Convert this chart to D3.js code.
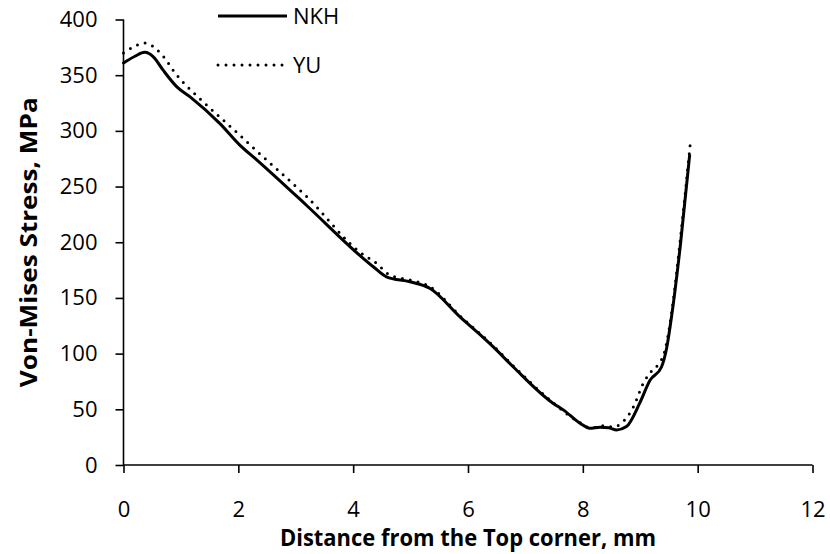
<!DOCTYPE html>
<html>
	<head>
		<style>
			body {
				margin: 0;
				background: #fff;
			}

			#chart {
				display: block;
			}

			text {
				font-family: 'Open Sans', sans-serif;
				fill: #000;
			}
		</style>
	</head>
	<body>
		<svg id="chart" width="830" height="554"></svg>
		<script src="https://cdnjs.cloudflare.com/ajax/libs/d3/7.8.5/d3.min.js"></script>

		<script>
			// NKH series (solid)
			let nkhX = [0, 0.2, 0.37, 0.52, 0.69, 0.93, 1.16, 1.68, 2.03, 2.32, 3.19, 4.12, 4.35, 4.58, 4.99, 5.34, 5.86, 6.21, 6.44, 6.79, 7.48, 7.66, 7.95, 8.12, 8.3, 8.45, 8.59, 8.76, 8.99, 9.17, 9.37, 9.46, 9.55, 9.7, 9.86];
			let nkhY = [361, 367, 370.5, 366.5, 354.5, 339.5, 330.5, 306.5, 287, 274, 233, 188, 178, 169, 164.5, 158.5, 133, 117, 106, 88, 55.5, 49.5, 37.5, 33, 34, 33.5, 31.5, 34.5, 55.5, 76, 88, 105, 135, 198, 278];

			// YU series (dotted)
			let yuX = [0, 0.2, 0.37, 0.64, 0.93, 1.39, 2.03, 2.32, 3.19, 4.12, 4.41, 4.64, 5.0, 5.34, 5.86, 6.44, 6.79, 7.48, 7.95, 8.12, 8.25, 8.38, 8.53, 8.67, 8.88, 9.05, 9.2, 9.31, 9.43, 9.55, 9.7, 9.88];
			let yuY = [370, 376, 379, 370, 350, 326, 296, 282, 241, 191, 181, 170.5, 166, 160, 134, 107, 89, 56, 38, 33.5, 34, 35.5, 34, 37.5, 52, 73, 84.5, 90, 103, 138, 204, 293];

			let xTicks = [0, 2, 4, 6, 8, 10, 12];
			let yTicks = [0, 50, 100, 150, 200, 250, 300, 350, 400];

			let series = [
				{ name: 'NKH', x: nkhX, y: nkhY, dash: null },
				{ name: 'YU', x: yuX, y: yuY, dash: '0 8' },
			];

			let svg = d3.select('#chart');

			let x = d3.scaleLinear().domain([0, 12]).range([123.5, 812.5]);
			let y = d3.scaleLinear().domain([0, 400]).range([465, 19.5]);

			// axes
			let xAxis = svg
				.append('g')
				.attr('transform', `translate(0, ${y(0)})`)
				.call(d3.axisBottom(x).tickValues(xTicks).tickSize(8).tickPadding(28));

			let yAxis = svg
				.append('g')
				.attr('transform', `translate(${x(0)}, 0)`)
				.call(d3.axisLeft(y).tickValues(yTicks).tickSize(8).tickPadding(18));

			[xAxis, yAxis].forEach(a => {
				a.selectAll('path, line').attr('stroke', '#000').attr('stroke-width', 1.6);
				a.selectAll('text')
					.style('font-family', "'Open Sans', sans-serif")
					.style('font-size', '22px')
					.attr('fill', '#000');
			});

			// plain domain lines (no outer ticks)
			xAxis.select('.domain').attr('d', `M${x(0)},0H${x(12)}`);
			yAxis.select('.domain').attr('d', `M0,${y(0)}V${y(400)}`);

			// lines
			let line = d3
				.line()
				.x(d => x(d[0]))
				.y(d => y(d[1]))
				.curve(d3.curveMonotoneX);

			series.forEach(s => {
				let pts = s.x.map((v, i) => [v, s.y[i]]);
				svg.append('path')
					.datum(pts)
					.attr('d', line)
					.attr('fill', 'none')
					.attr('stroke', '#000')
					.attr('stroke-width', 3)
					.attr('stroke-linecap', 'round')
					.attr('stroke-dasharray', s.dash);
			});

			// legend
			let legend = svg.append('g');
			series.forEach((s, i) => {
				let ly = 16 + i * 49;
				legend.append('line')
					.attr('x1', 218)
					.attr('x2', 287)
					.attr('y1', ly)
					.attr('y2', ly)
					.attr('stroke', '#000')
					.attr('stroke-width', 3)
					.attr('stroke-linecap', s.dash ? 'round' : 'butt')
					.attr('stroke-dasharray', s.dash);
				legend.append('text')
					.attr('x', 293)
					.attr('y', ly + 8)
					.style('font-size', '22px')
					.text(s.name);
			});

			// axis titles
			svg.append('text')
				.attr('x', (x(0) + x(12)) / 2)
				.attr('y', 546)
				.attr('text-anchor', 'middle')
				.attr('textLength', 376)
				.attr('lengthAdjust', 'spacingAndGlyphs')
				.style('font-size', '23px')
				.style('font-weight', 'bold')
				.text('Distance from the Top corner, mm');

			svg.append('text')
				.attr('transform', `translate(37, ${(y(0) + y(400)) / 2}) rotate(-90)`)
				.attr('text-anchor', 'middle')
				.attr('textLength', 290)
				.attr('lengthAdjust', 'spacingAndGlyphs')
				.style('font-size', '23px')
				.style('font-weight', 'bold')
				.text('Von-Mises Stress, MPa');
		</script>
	</body>
</html>
